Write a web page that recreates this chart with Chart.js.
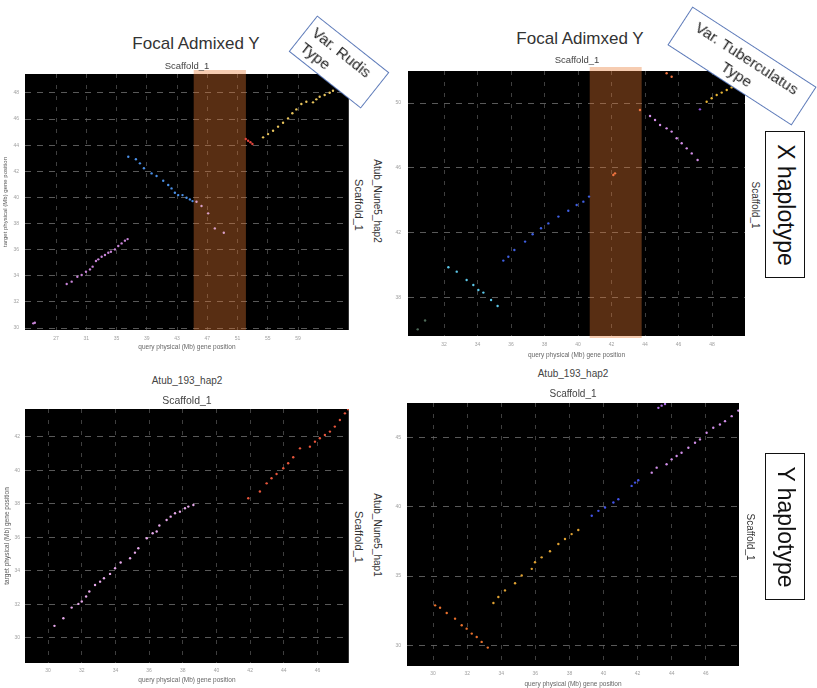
<!DOCTYPE html>
<html><head><meta charset="utf-8">
<script src="https://cdn.jsdelivr.net/npm/chart.js@4.4.1/dist/chart.umd.min.js"></script>
<style>
html,body{margin:0;padding:0;background:#fff;}
body{width:817px;height:688px;position:relative;overflow:hidden;font-family:"Liberation Sans",Arial,Helvetica,sans-serif;}
canvas{position:absolute;}
.t{position:absolute;white-space:nowrap;line-height:1;color:#333;}
.c{transform:translate(-50%,-50%);}
.r{transform:translate(-50%,-50%) rotate(90deg);}
.vbox{position:absolute;background:#fff;border:1px solid #5a78b8;box-sizing:border-box;font-size:15.5px;line-height:19px;color:#222;padding:3px 6px;}
.hbox{position:absolute;background:#fff;border:1px solid #111;box-sizing:border-box;}
.hbox span{position:absolute;left:50%;top:50%;transform:translate(-50%,-50%) rotate(90deg);font-size:23px;white-space:nowrap;color:#111;}
</style></head><body>
<canvas id="p1" width="350" height="300" style="left:0;top:60px"></canvas>
<canvas id="p2" width="360" height="300" style="left:390px;top:60px"></canvas>
<canvas id="p3" width="350" height="293" style="left:0;top:395px"></canvas>
<canvas id="p4" width="362" height="298" style="left:388px;top:390px"></canvas>

<div class="t c" style="left:196px;top:43px;font-size:17px;">Focal Admixed Y</div>
<div class="t c" style="left:580px;top:38px;font-size:17px;">Focal Adimxed Y</div>

<div class="t c" style="left:187px;top:66px;font-size:9.5px;color:#444;">Scaffold_1</div>
<div class="t c" style="left:577px;top:60px;font-size:9.5px;color:#444;">Scaffold_1</div>
<div class="t c" style="left:187px;top:381px;font-size:10px;color:#444;">Atub_193_hap2</div>
<div class="t c" style="left:187px;top:400px;font-size:10.5px;color:#444;">Scaffold_1</div>
<div class="t c" style="left:573px;top:374px;font-size:10px;color:#444;">Atub_193_hap2</div>
<div class="t c" style="left:573px;top:394px;font-size:10px;color:#444;">Scaffold_1</div>

<div class="t r" style="left:358px;top:205px;font-size:11px;">Scaffold_1</div>
<div class="t r" style="left:377px;top:201px;font-size:10px;">Atub_Nune5_hap2</div>
<div class="t r" style="left:358px;top:537px;font-size:11px;">Scaffold_1</div>
<div class="t r" style="left:377px;top:535px;font-size:10px;">Atub_Nune5_hap1</div>
<div class="t r" style="left:755px;top:205px;font-size:10px;">Scaffold_1</div>
<div class="t r" style="left:750px;top:537px;font-size:10px;">Scaffold_1</div>

<div class="vbox" style="left:293px;top:39px;width:92px;height:46px;transform:rotate(38.4deg);text-align:left;">Var. Rudis<br>Type</div>
<div class="vbox" style="left:668px;top:43px;width:148px;height:46px;transform:rotate(33deg);text-align:center;padding:3px 3px;">Var. Tuberculatus<br>Type</div>

<div class="hbox" style="left:765px;top:131px;width:40px;height:147px;"><span>X haplotype</span></div>
<div class="hbox" style="left:765px;top:453px;width:40px;height:147px;"><span>Y haplotype</span></div>

<script>
// ---------- axis ticks and ranges (Mb) ----------
const rudisXTicks = [27, 31, 35, 39, 43, 47, 51, 55, 59];
const rudisYTicks = [30, 32, 34, 36, 38, 40, 42, 44, 46, 48];
const rudisXRange = [22.9, 65.7];
const rudisYRange = [29.85, 49.45];

const tuberXTicks = [32, 34, 36, 38, 40, 42, 44, 46, 48];
const tuberYTicks = [38, 42, 46, 50];
const tuberXRange = [29.85, 49.97];
const tuberYRange = [35.66, 51.97];

const hap1XTicks = [30, 32, 34, 36, 38, 40, 42, 44, 46];
const hap1YTicks = [30, 32, 34, 36, 38, 40, 42];
const hap1XRange = [28.63, 47.86];
const hap1YRange = [28.5, 43.67];

const hap2XTicks = [30, 32, 34, 36, 38, 40, 42, 44, 46];
const hap2YTicks = [30, 35, 40, 45];
const hap2XRange = [28.47, 47.95];
const hap2YRange = [28.5, 47.5];

// highlighted regions on the query (Mb)
const rudisBand = [45.2, 52.1];
const tuberBand = [40.7, 43.8];

// ---------- panel 1: Focal Admixed Y vs Atub_Nune5_hap2 (Var. Rudis) ----------
const rudisPink = [[24.0,30.36],[24.2,30.41],[28.41,33.37],[29.07,33.55],[29.82,33.93],[30.39,34.06],[30.96,34.31],[31.49,34.49],[31.84,34.70],[32.28,35.13],[32.59,35.26],[33.03,35.46],[33.47,35.59],[33.91,35.77],[34.26,35.84],[34.79,36.02],[35.23,36.28],[35.67,36.48],[36.11,36.69],[36.46,36.81]];
const rudisBlue = [[36.55,43.12],[37.56,42.92],[38.09,42.61],[38.62,42.23],[39.63,41.84],[40.29,41.64],[41.17,41.28],[41.83,40.95],[42.27,40.69],[42.71,40.36],[43.15,40.18],[43.72,40.18],[44.25,39.98],[44.69,39.85],[45.04,39.72]];
const rudisBandDots = [[45.57,39.67],[46.23,39.34],[47.11,38.78],[47.99,37.63],[49.18,37.30]];
const rudisRed = [[52.08,44.47],[52.39,44.34],[52.70,44.22],[52.96,44.09]];
const rudisYellow = [[54.37,44.60],[55.03,44.85],[55.69,45.11],[56.35,45.42],[57.01,45.72],[57.67,46.05],[58.24,46.44],[58.77,46.74],[59.43,47.15],[60.09,47.33],[60.97,47.28],[61.41,47.51],[61.85,47.71],[62.51,47.84],[63.17,48.02],[63.61,48.17]];

// ---------- panel 2: Focal Admixed Y vs Atub_Nune5_hap2 (Var. Tuberculatus) ----------
const tuberDim = [[30.43,36.07],[30.87,36.61]];
const tuberCyan = [[32.26,39.89],[32.76,39.62],[33.35,39.11],[33.75,38.80],[34.05,38.49],[34.35,38.33],[34.81,37.88],[35.20,37.51]];
const tuberBlue = [[35.54,40.30],[35.84,40.54],[36.20,40.95],[36.84,41.47],[37.29,41.92],[37.79,42.29],[38.23,42.59],[38.83,43.01],[39.42,43.37],[39.92,43.72],[40.32,43.93],[40.66,44.24]];
const tuberOrange = [[42.21,45.67],[42.11,45.57],[43.70,49.57],[45.29,51.83],[45.59,51.62]];
const tuberPink = [[44.30,49.20],[44.60,48.95],[44.90,48.65],[45.29,48.44],[45.59,48.24],[45.89,47.83],[46.19,47.52],[46.49,47.21],[46.79,46.90],[47.14,46.49]];
const tuberPurple = [[47.28,49.61]];
const tuberYellow = [[47.68,50.08],[47.98,50.29],[48.28,50.49],[48.58,50.64],[48.88,50.80],[49.17,50.96]];

// ---------- panel 3: Atub_193_hap2 vs Atub_Nune5_hap2 ----------
const hap1Pink = [[30.38,30.72],[30.91,31.17],[31.40,31.81],[31.80,32.03],[32.00,32.17],[32.26,32.47],[32.45,32.77],[32.79,33.16],[33.09,33.36],[33.32,33.56],[33.68,33.82],[33.98,34.16],[34.31,34.50],[34.87,34.76],[35.16,35.09],[35.36,35.35],[35.86,35.95],[36.21,36.25],[36.45,36.35],[36.61,36.71],[37.04,37.04],[37.28,37.24],[37.54,37.44],[37.83,37.54],[38.13,37.74],[38.33,37.84],[38.63,37.94]];
const hap1Red = [[41.89,38.34],[42.58,38.74],[42.98,39.23],[43.27,39.53],[43.57,39.79],[43.97,40.13],[44.26,40.43],[44.56,40.79],[44.96,41.32],[45.55,41.42],[45.85,41.72],[46.14,41.92],[46.44,42.12],[46.74,42.32],[47.03,42.62],[47.33,43.01],[47.63,43.41],[47.82,43.65]];

// ---------- panel 4: Atub_193_hap2 vs Atub_Nune5_hap1 ----------
const hap2Orange = [[30.12,32.88],[30.41,32.71],[30.80,32.33],[31.29,31.92],[31.68,31.44],[31.97,31.20],[32.27,30.84],[32.56,30.60],[32.85,30.24],[33.21,29.83]];
const hap2Yellow = [[33.54,33.05],[33.83,33.48],[34.22,33.96],[34.81,34.48],[35.20,35.04],[35.79,35.52],[35.98,36.00],[36.37,36.35],[36.86,36.79],[37.35,37.31],[37.74,37.67],[38.13,38.03],[38.52,38.32]];
const hap2Blue = [[39.31,39.35],[39.70,39.71],[40.09,39.95],[40.58,40.31],[40.87,40.55],[41.65,41.51],[41.85,41.75],[42.04,41.92]];
const hap2Pink = [[42.83,42.47],[43.12,42.83],[43.70,43.07],[44.00,43.43],[44.29,43.67],[44.58,43.91],[44.98,44.27],[45.37,44.63],[45.66,44.87],[46.05,45.35],[46.44,45.71],[46.83,45.95],[47.13,46.19],[47.52,46.55],[47.91,46.95]];
const hap2Violet = [[43.22,47.15],[43.41,47.31],[43.61,47.43]];

// ---------- plugins ----------
const plotBg = {
  id: 'plotBg',
  beforeDraw(chart) {
    const a = chart.chartArea, ctx = chart.ctx;
    ctx.save(); ctx.fillStyle = '#000';
    ctx.fillRect(a.left, a.top, a.right - a.left, a.bottom - a.top);
    ctx.restore();
  }
};
const bandPlugin = {
  id: 'band',
  beforeDatasetsDraw(chart, args, opts) {
    if (!opts || !opts.range) return;
    const a = chart.chartArea, ctx = chart.ctx, xs = chart.scales.x;
    const x0 = xs.getPixelForValue(opts.range[0]), x1 = xs.getPixelForValue(opts.range[1]);
    ctx.save();
    ctx.fillStyle = opts.color;
    ctx.fillRect(x0, a.top - opts.above, x1 - x0, a.bottom - a.top + opts.above + opts.below);
    ctx.restore();
  }
};

const FONT = '"Liberation Sans", Arial, Helvetica, sans-serif';

function makePanel(id, p) {
  return new Chart(document.getElementById(id), {
    type: 'scatter',
    data: {
      datasets: p.series.map(s => ({
        data: s.data.map(([x, y]) => ({ x, y })),
        backgroundColor: s.color, borderWidth: 0,
        pointRadius: 1.2, pointHoverRadius: 1.2
      }))
    },
    options: {
      responsive: false, animation: false, devicePixelRatio: 1,
      layout: { padding: p.pad },
      plugins: {
        legend: { display: false }, tooltip: { enabled: false },
        band: p.band ? { range: p.band, color: 'rgba(232,122,50,0.38)', above: p.bandAbove, below: p.bandBelow } : {}
      },
      scales: {
        x: {
          type: 'linear', min: p.xRange[0], max: p.xRange[1],
          afterBuildTicks: s => { s.ticks = p.xTicks.map(v => ({ value: v })); },
          afterFit: s => { s.height = p.xH; },
          grid: { color: 'rgba(70,70,70,0.9)', lineWidth: 1, drawTicks: false },
          border: { display: false, dash: [4, 7] },
          ticks: { autoSkip: false, maxRotation: 0, padding: p.xTickPad, color: '#a0a0a0', font: { size: 5, family: FONT } },
          title: { display: true, text: 'query physical (Mb) gene position', color: '#666', font: { size: 6.5, family: FONT }, padding: { top: 0, bottom: p.xTitlePad } }
        },
        y: {
          type: 'linear', min: p.yRange[0], max: p.yRange[1],
          afterBuildTicks: s => { s.ticks = p.yTicks.map(v => ({ value: v })); },
          afterFit: s => { s.width = p.yW; },
          grid: { color: 'rgba(105,105,105,0.85)', lineWidth: 1, drawTicks: false },
          border: { display: false, dash: [6, 6] },
          ticks: { autoSkip: false, padding: p.yTickPad, color: '#a0a0a0', font: { size: 5, family: FONT } },
          title: { display: p.yTitle, text: 'target physical (Mb) gene position', color: '#555', font: { size: p.yTitleSize, family: FONT }, padding: { top: p.yTitlePad, bottom: 0 } }
        }
      }
    },
    plugins: [plotBg, bandPlugin]
  });
}

makePanel('p1', {
  pad: { top: 14, right: 1, bottom: 0, left: 0 }, xH: 30, yW: 25,
  xRange: rudisXRange, yRange: rudisYRange, xTicks: rudisXTicks, yTicks: rudisYTicks,
  xTickPad: 6, xTitlePad: 9, yTickPad: 6, yTitle: true, yTitleSize: 6, yTitlePad: 2,
  band: rudisBand, bandAbove: 4, bandBelow: 0,
  series: [
    { data: rudisPink, color: '#c884d8' },
    { data: rudisBlue, color: '#4a8fe6' },
    { data: rudisBandDots, color: '#d9a0c8' },
    { data: rudisRed, color: '#e2443c' },
    { data: rudisYellow, color: '#e8c45c' }
  ]
});

makePanel('p2', {
  pad: { top: 11, right: 5, bottom: 0, left: 0 }, xH: 24, yW: 18,
  xRange: tuberXRange, yRange: tuberYRange, xTicks: tuberXTicks, yTicks: tuberYTicks,
  xTickPad: 6, xTitlePad: 1, yTickPad: 7, yTitle: false, yTitleSize: 6, yTitlePad: 0,
  band: tuberBand, bandAbove: 4, bandBelow: 2,
  series: [
    { data: tuberDim, color: '#4e6a58' },
    { data: tuberCyan, color: '#5cc8ea' },
    { data: tuberBlue, color: '#3f5fe2' },
    { data: tuberOrange, color: '#f07440' },
    { data: tuberPink, color: '#d48ee8' },
    { data: tuberPurple, color: '#8a4fd8' },
    { data: tuberYellow, color: '#e8b535' }
  ]
});

makePanel('p3', {
  pad: { top: 14, right: 1, bottom: 0, left: 0 }, xH: 25, yW: 25,
  xRange: hap1XRange, yRange: hap1YRange, xTicks: hap1XTicks, yTicks: hap1YTicks,
  xTickPad: 5, xTitlePad: 4, yTickPad: 5, yTitle: true, yTitleSize: 6.5, yTitlePad: 3,
  band: null,
  series: [
    { data: hap1Pink, color: '#e6a8ea' },
    { data: hap1Red, color: '#e8563c' }
  ]
});

makePanel('p4', {
  pad: { top: 13, right: 11, bottom: 0, left: 0 }, xH: 22, yW: 19,
  xRange: hap2XRange, yRange: hap2YRange, xTicks: hap2XTicks, yTicks: hap2YTicks,
  xTickPad: 5, xTitlePad: 0, yTickPad: 6, yTitle: false, yTitleSize: 6, yTitlePad: 0,
  band: null,
  series: [
    { data: hap2Orange, color: '#e8702c' },
    { data: hap2Yellow, color: '#e0a232' },
    { data: hap2Blue, color: '#4252e8' },
    { data: hap2Pink, color: '#d08ee8' },
    { data: hap2Violet, color: '#b070e8' }
  ]
});
</script>
</body></html>
